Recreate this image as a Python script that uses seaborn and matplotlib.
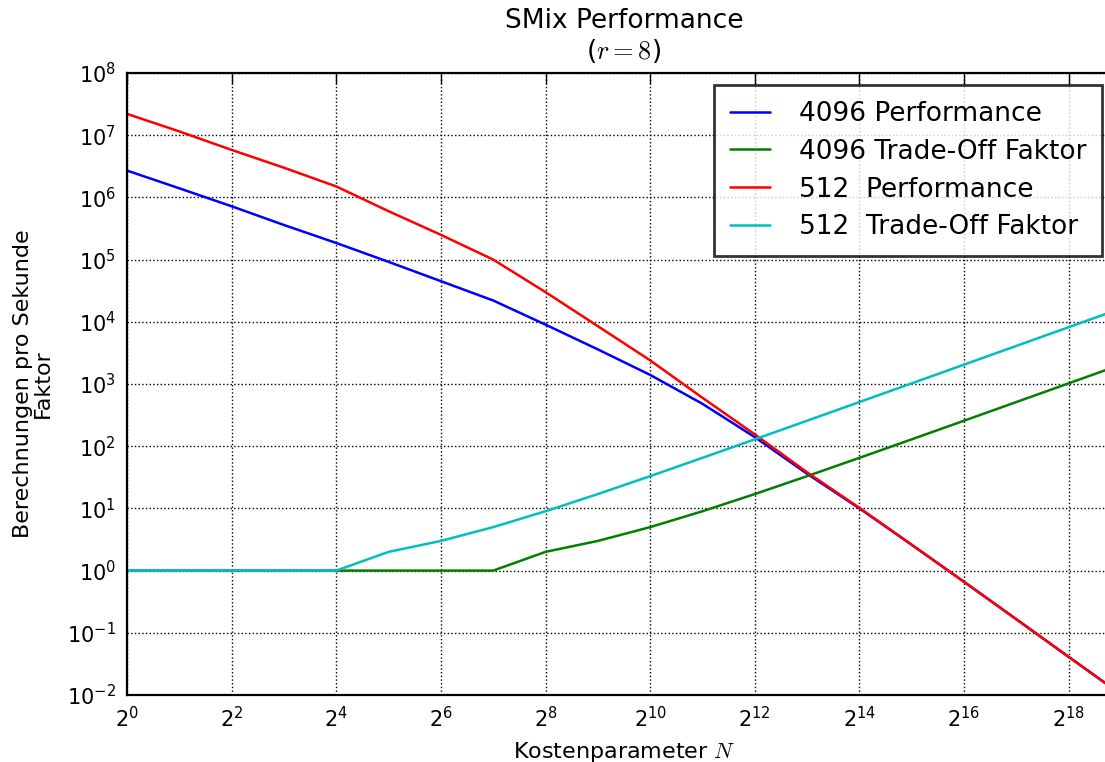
import numpy as np
import pandas as pd
import seaborn as sns
import matplotlib
matplotlib.use("Agg")
import matplotlib.pyplot as plt
from matplotlib.ticker import FixedLocator, FixedFormatter, LogLocator, NullFormatter

# Kostenparameter N = 2^k
exponents = list(range(0, 20))

perf_4096 = [2.7e6, 1.4e6, 7.2e5, 3.6e5, 1.85e5, 9.2e4, 4.5e4, 2.2e4, 9.0e3, 3.6e3,
             1.4e3, 480, 140, 36, 10, 2.6, 0.66, 0.165, 0.041, 0.0103]
tradeoff_4096 = [1, 1, 1, 1, 1, 1, 1, 1, 2, 3,
                 5, 9, 17, 33, 65, 129, 257, 513, 1025, 2049]
perf_512 = [2.2e7, 1.15e7, 5.8e6, 3.0e6, 1.5e6, 6.0e5, 2.5e5, 1.0e5, 3.0e4, 8.5e3,
            2.4e3, 600, 155, 38, 10.2, 2.6, 0.66, 0.165, 0.041, 0.0102]
tradeoff_512 = [1, 1, 1, 1, 1, 2, 3, 5, 9, 17,
                33, 65, 129, 257, 513, 1025, 2049, 4097, 8193, 16385]

series_labels = ["4096 Performance", "4096 Trade-Off Faktor",
                 "512  Performance", "512  Trade-Off Faktor"]
series_colors = ["#0000ff", "#008000", "#ff0000", "#00bfbf"]

xtick_exponents = [0, 2, 4, 6, 8, 10, 12, 14, 16, 18]
ytick_exponents = [-2, -1, 0, 1, 2, 3, 4, 5, 6, 7, 8]

# long table for seaborn
N = [2.0 ** k for k in exponents]
frames = []
for label, values in zip(series_labels, [perf_4096, tradeoff_4096, perf_512, tradeoff_512]):
    frames.append(pd.DataFrame({"N": N, "value": values, "series": label}))
df = pd.concat(frames, ignore_index=True)

sns.set_style("white")
plt.rcParams["font.family"] = ["DejaVu Sans"]
plt.rcParams["mathtext.fontset"] = "cm"
plt.rcParams["text.color"] = "black"
plt.rcParams["axes.labelcolor"] = "black"

fig = plt.figure(figsize=(11.05, 7.62), dpi=100)
ax = fig.add_axes([127 / 1105, 1 - 695 / 762, 994 / 1105, (695 - 73) / 762])

sns.lineplot(data=df, x="N", y="value", hue="series", hue_order=series_labels,
             palette=series_colors, estimator=None, linewidth=1.8, ax=ax)

ax.set_xscale("log", base=2)
ax.set_yscale("log")
ax.set_xlim(1, 2.0 ** 19)
ax.set_ylim(1e-2, 1e8)

ax.xaxis.set_major_locator(FixedLocator([2.0 ** k for k in xtick_exponents]))
ax.xaxis.set_major_formatter(FixedFormatter(
    [r"$\mathdefault{2^{%d}}$" % k for k in xtick_exponents]))
ax.xaxis.set_minor_locator(FixedLocator([]))
ax.yaxis.set_major_locator(FixedLocator([10.0 ** k for k in ytick_exponents]))
ax.yaxis.set_major_formatter(FixedFormatter(
    [r"$\mathdefault{10^{%d}}$" % k for k in ytick_exponents]))
ax.yaxis.set_minor_locator(LogLocator(base=10, subs=np.arange(2, 10), numticks=20))
ax.yaxis.set_minor_formatter(NullFormatter())

ax.tick_params(which="major", direction="in", length=8, width=1, top=True, right=True,
               labelsize=15, pad=8, colors="black")
ax.tick_params(which="minor", direction="in", length=4, width=1, top=True, right=True)

ax.grid(True, which="major", color="black", linestyle=":", linewidth=1)
for spine in ax.spines.values():
    spine.set_linewidth(1.6)
    spine.set_color("black")

ax.set_title("SMix Performance\n($r=8$)", fontsize=19, pad=10, linespacing=1.15)
ax.set_xlabel("Kostenparameter $N$", fontsize=16, labelpad=6)
ax.set_ylabel("Berechnungen pro Sekunde\nFaktor", fontsize=16, labelpad=10,
              linespacing=1.0)

leg = ax.legend(loc="upper right", bbox_to_anchor=(1102 / 1105, 1 - 85 / 762),
                bbox_transform=fig.transFigure, borderaxespad=0, fontsize=19,
                frameon=True, fancybox=False, handlelength=1.5, handletextpad=1.1,
                borderpad=0.6, labelspacing=0.45)
leg.get_frame().set_edgecolor("black")
leg.get_frame().set_linewidth(2)
for line in leg.get_lines():
    line.set_linewidth(1.8)

fig.savefig("out.png", dpi=100)
